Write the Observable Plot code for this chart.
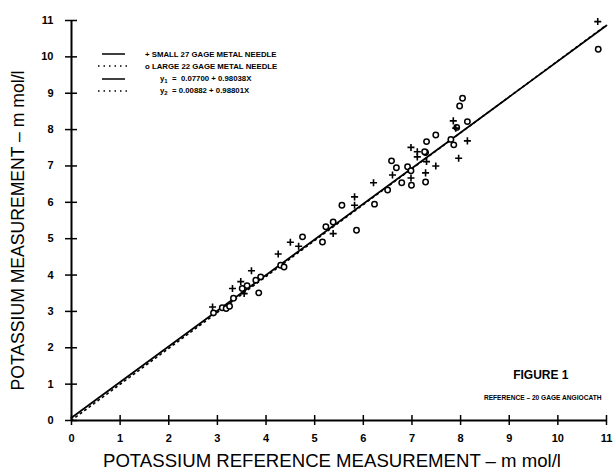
<!DOCTYPE html>
<html>
<head>
<meta charset="utf-8">
<script src="https://cdn.jsdelivr.net/npm/d3@7"></script>
<script src="https://cdn.jsdelivr.net/npm/@observablehq/plot@0.6"></script>
<style>
  html, body { margin: 0; padding: 0; background: #fff; }
  #wrap { position: relative; width: 616px; height: 476px; font-family: "Liberation Sans", Arial, sans-serif; }
  #legend { position: absolute; left: 98px; top: 48px; font-size: 7.8px; font-weight: bold; color: #000; }
  #legend .row { height: 12.3px; display: flex; align-items: center; white-space: nowrap; }
  #legend svg { width: 30px; height: 8px; margin-right: 17px; }
  #legend .eq { padding-left: 15px; }
  #legend sub { font-size: 6px; vertical-align: -2px; }
</style>
</head>
<body>
<div id="wrap">
  <div id="chart"></div>
  <div id="legend">
    <div class="row"><svg><line x1="4" x2="27" y1="4" y2="4" stroke="#000" stroke-width="1.5"/></svg><span>+ SMALL 27 GAGE METAL NEEDLE</span></div>
    <div class="row"><svg><line x1="0" x2="30" y1="4" y2="4" stroke="#000" stroke-width="1.5" stroke-dasharray="1.5,4"/></svg><span>o LARGE 22 GAGE METAL NEEDLE</span></div>
    <div class="row"><svg><line x1="4" x2="27" y1="4" y2="4" stroke="#000" stroke-width="1.5"/></svg><span class="eq">y<sub>1</sub> &nbsp;= &nbsp;0.07700 + 0.98038X</span></div>
    <div class="row"><svg><line x1="0" x2="30" y1="4" y2="4" stroke="#000" stroke-width="1.5" stroke-dasharray="1.5,4"/></svg><span class="eq">y<sub>2</sub> &nbsp;= 0.00882 + 0.98801X</span></div>
  </div>
</div>
<script>
// Tick values
const xTicks = [0,1,2,3,4,5,6,7,8,9,10,11];
const yTicks = [0,1,2,3,4,5,6,7,8,9,10,11];

// Small 27 gage metal needle (+)
const smallX = [2.90,3.31,3.48,3.55,3.70,4.25,4.50,4.67,5.38,5.82,5.82,6.21,6.60,6.98,7.11,7.11,6.98,7.28,7.30,7.49,7.96,8.14,7.85,7.90,10.82];
const smallY = [3.12,3.63,3.82,3.49,4.12,4.58,4.90,4.79,5.14,6.15,5.92,6.54,6.75,7.51,7.39,7.25,6.67,6.81,7.12,7.00,7.21,7.69,8.24,8.04,10.97];

// Large 22 gage metal needle (o)
const largeX = [2.92,3.10,3.18,3.25,3.33,3.51,3.61,3.85,3.79,3.89,4.30,4.37,4.75,5.16,5.23,5.38,5.86,5.56,6.23,6.50,6.58,6.68,6.79,6.99,6.91,6.98,7.28,7.28,7.30,7.49,7.86,7.80,7.92,8.14,8.04,7.98,7.26,10.83];
const largeY = [2.96,3.10,3.08,3.14,3.36,3.63,3.71,3.51,3.86,3.95,4.27,4.22,5.05,4.91,5.33,5.46,5.23,5.92,5.95,6.34,7.14,6.95,6.54,6.47,6.98,6.87,6.56,7.37,7.67,7.85,7.58,7.73,8.06,8.22,8.86,8.65,7.39,10.21];

// Regression equations from the legend
const fit1 = {a: 0.07700, b: 0.98038};
const fit2 = {a: 0.00882, b: 0.98801};
const fitRange = [0, 11];

const small = smallX.map((x, i) => ({x, y: smallY[i]}));
const large = largeX.map((x, i) => ({x, y: largeY[i]}));
const line1 = fitRange.map(x => ({x, y: fit1.a + fit1.b * x}));
const line2 = fitRange.map(x => ({x, y: fit2.a + fit2.b * x}));

const font = "Liberation Sans, Arial, sans-serif";

const chart = Plot.plot({
  width: 616,
  height: 476,
  marginLeft: 71,
  marginRight: 10,
  marginTop: 20,
  marginBottom: 56,
  x: {domain: [0, 11]},
  y: {domain: [0, 11]},
  style: {fontFamily: font, background: "#fff", color: "#000"},
  marks: [
    Plot.ruleY([0], {stroke: "#000", strokeWidth: 2}),
    Plot.ruleX([0], {stroke: "#000", strokeWidth: 2}),
    Plot.axisX({ticks: xTicks, tickSize: 10, dy: -5, fill: "none", strokeWidth: 1.5, label: null}),
    Plot.axisY({ticks: yTicks, tickSize: 12, dx: 6, fill: "none", strokeWidth: 1.5, label: null}),
    Plot.axisX({ticks: xTicks, tickSize: 0, tickPadding: 14, stroke: "none", label: null, fontSize: 11, fontWeight: "bold", tickFormat: d => d}),
    Plot.axisY({ticks: yTicks, tickSize: 0, tickPadding: 18, stroke: "none", label: null, fontSize: 11, fontWeight: "bold", tickFormat: d => d}),
    Plot.line(line2, {x: "x", y: "y", stroke: "#000", strokeWidth: 1.6, strokeDasharray: "1.5,4"}),
    Plot.line(line1, {x: "x", y: "y", stroke: "#000", strokeWidth: 1.8}),
    Plot.dot(large, {x: "x", y: "y", r: 2.7, stroke: "#000", strokeWidth: 1.5, fill: "#fff"}),
    Plot.dot(small, {x: "x", y: "y", symbol: "plus", r: 2.4, stroke: "#000", strokeWidth: 1.6}),
    Plot.text(["POTASSIUM REFERENCE MEASUREMENT – m mol/l"], {frameAnchor: "bottom", textAnchor: "middle", dx: -7, dy: 46, fontSize: 18.6}),
    Plot.text(["POTASSIUM MEASUREMENT – m mol/l"], {frameAnchor: "left", textAnchor: "middle", rotate: -90, dx: -53, dy: 10, fontSize: 17.6}),
    Plot.text(["FIGURE 1"], {frameAnchor: "bottom-right", textAnchor: "end", dx: -38, dy: -42, fontSize: 12, fontWeight: "bold"}),
    Plot.text(["REFERENCE – 20 GAGE ANGIOCATH"], {frameAnchor: "bottom-right", textAnchor: "end", dx: -5, dy: -21, fontSize: 6.6, fontWeight: "bold"})
  ]
});
document.getElementById("chart").appendChild(chart);
</script>
</body>
</html>
